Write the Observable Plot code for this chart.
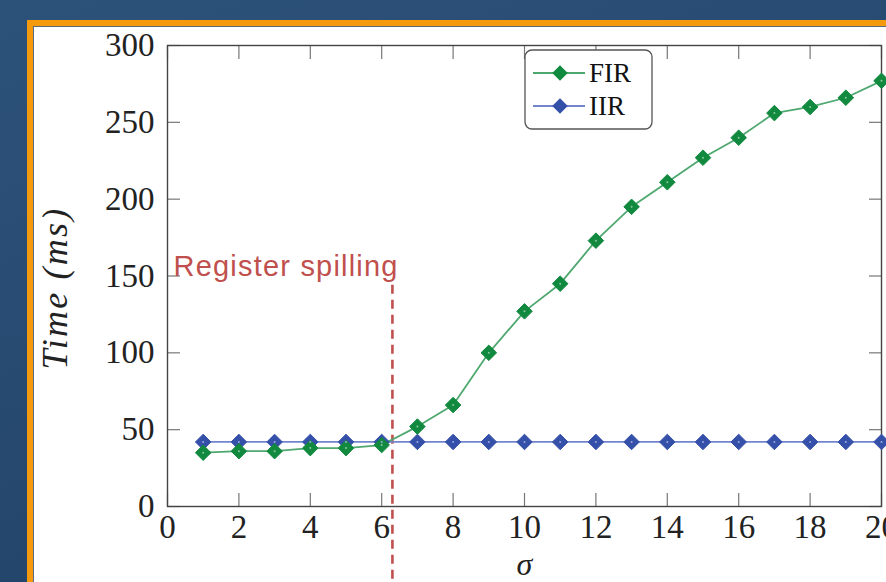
<!DOCTYPE html>
<html>
<head>
<meta charset="utf-8">
<script src="https://cdn.jsdelivr.net/npm/d3@7"></script>
<script src="https://cdn.jsdelivr.net/npm/@observablehq/plot@0.6"></script>
<style>
  html, body { margin: 0; padding: 0; width: 886px; height: 582px; overflow: hidden; }
  body { background: linear-gradient(160deg, #2d5279 0%, #25476e 60%, #1f3f65 100%); position: relative; font-family: "Liberation Serif", serif; }
  #orange { position: absolute; left: 27px; top: 20px; width: 900px; height: 600px; background: #f59a0c; }
  #panel { position: absolute; left: 33px; top: 26px; width: 900px; height: 600px; background: #ffffff; border-left: 1px solid #5a6b7c; border-top: 1px solid #5a6b7c; }
  #chart { position: absolute; left: 0; top: 0; }
  #legend { position: absolute; left: 524px; top: 49px; }
</style>
</head>
<body>
<div id="orange"></div>
<div id="panel"></div>
<div id="chart"></div>
<div id="legend"></div>
<script>
const sigma = [1,2,3,4,5,6,7,8,9,10,11,12,13,14,15,16,17,18,19,20];
const firTime = [35,36,36,38,38,40,52,66,100,127,145,173,195,211,227,240,256,260,266,277];
const iirTime = [42,42,42,42,42,42,42,42,42,42,42,42,42,42,42,42,42,42,42,42];
const seriesNames = ["FIR", "IIR"];
const xTicks = [0,2,4,6,8,10,12,14,16,18,20];
const yTicks = [0,50,100,150,200,250,300];
const spillSigma = 6.3;
const spillTop = 144;
const spillBottom = -50;
const spillLabel = "Register spilling";
const spillLabelX = 0.17;
const spillLabelY = 150;
const yLabel = "Time (ms)";
const xLabel = "σ";

const colors = {FIR: {line: "#4fa870", dot: "#11893e"}, IIR: {line: "#7186cf", dot: "#3550a9"}};

const fir = sigma.map((s, i) => ({sigma: s, time: firTime[i], series: "FIR"}));
const iir = sigma.map((s, i) => ({sigma: s, time: iirTime[i], series: "IIR"}));

const serif = "'Liberation Serif', 'Times New Roman', serif";
const tickStyle = {tickSize: -13, fill: "none", stroke: "#777", strokeWidth: 1.2, label: null};

const chart = Plot.plot({
  width: 886,
  height: 582,
  marginLeft: 167,
  marginRight: 5,
  marginTop: 45,
  marginBottom: 76,
  style: {background: "transparent", fontFamily: serif, overflow: "hidden"},
  x: {domain: [0, 20]},
  y: {domain: [0, 300]},
  marks: [
    Plot.axisX(xTicks, {anchor: "bottom", ...tickStyle}),
    Plot.axisX(xTicks, {anchor: "top", ...tickStyle}),
    Plot.axisY(yTicks, {anchor: "left", ...tickStyle}),
    Plot.axisY(yTicks, {anchor: "right", ...tickStyle}),
    Plot.axisX(xTicks, {anchor: "bottom", tickSize: 0, tickPadding: 8, fontSize: 33, fill: "#222", label: null, tickFormat: d => String(d)}),
    Plot.axisY(yTicks, {anchor: "left", tickSize: 0, tickPadding: 13, fontSize: 33, fill: "#222", label: null, tickFormat: d => String(d)}),
    Plot.frame({stroke: "#444", strokeWidth: 1.4}),
    Plot.ruleX([spillSigma], {y1: spillTop, y2: spillBottom, stroke: "#c0504d", strokeWidth: 2.6, strokeDasharray: "9,6", clip: false}),
    Plot.text([spillLabel], {x: spillLabelX, y: spillLabelY, text: d => d, textAnchor: "start", lineAnchor: "bottom", fill: "#c0504d", fontSize: 29, fontFamily: "'Liberation Sans', Arial, sans-serif"}),
    Plot.line(iir, {x: "sigma", y: "time", stroke: colors.IIR.line, strokeWidth: 1.8}),
    Plot.line(fir, {x: "sigma", y: "time", stroke: colors.FIR.line, strokeWidth: 1.8}),
    Plot.dot(iir, {x: "sigma", y: "time", symbol: "diamond2", r: 7, fill: colors.IIR.dot, stroke: colors.IIR.dot, strokeWidth: 1}),
    Plot.dot(fir, {x: "sigma", y: "time", symbol: "diamond2", r: 7, fill: colors.FIR.dot, stroke: colors.FIR.dot, strokeWidth: 1}),
    Plot.dot(iir, {x: "sigma", y: "time", r: 1, fill: "#9aa8dd"}),
    Plot.dot(fir, {x: "sigma", y: "time", r: 1, fill: "#8ac89e"}),
    Plot.text([yLabel], {frameAnchor: "left", text: d => d, rotate: -90, textAnchor: "middle", lineAnchor: "middle", dx: -112, dy: 12, fontSize: 36, fontStyle: "italic", fill: "#222"}),
    Plot.text([xLabel], {frameAnchor: "bottom", text: d => d, textAnchor: "middle", lineAnchor: "middle", dy: 58, fontSize: 32, fontStyle: "italic", fill: "#222"})
  ]
});
document.getElementById("chart").appendChild(chart);

// letter spacing tweaks to match the wider reference glyphs
d3.select(chart).selectAll("text")
  .filter(function() { return this.textContent === spillLabel; })
  .style("letter-spacing", "1.2px");
d3.select(chart).selectAll("text")
  .filter(function() { return this.textContent === yLabel; })
  .style("letter-spacing", "2.2px");

// Legend (HTML/SVG overlay)
const lg = d3.select("#legend").append("svg").attr("width", 130).attr("height", 82);
lg.append("rect").attr("x", 1).attr("y", 1).attr("width", 127).attr("height", 79).attr("rx", 7)
  .attr("fill", "white").attr("stroke", "#555").attr("stroke-width", 1.3);
seriesNames.forEach((name, i) => {
  const cy = 24 + i * 33;
  const c = colors[name];
  lg.append("line").attr("x1", 9).attr("x2", 61).attr("y1", cy).attr("y2", cy).attr("stroke", c.line).attr("stroke-width", 1.8);
  lg.append("path").attr("d", d3.symbol(d3.symbolDiamond2, Math.PI * 7 * 7)()).attr("transform", `translate(36,${cy})`).attr("fill", c.dot);
  lg.append("text").attr("x", 65).attr("y", cy).attr("dy", "0.34em").attr("font-family", serif).attr("font-size", 27).attr("fill", "#111").text(name);
});
</script>
</body>
</html>
